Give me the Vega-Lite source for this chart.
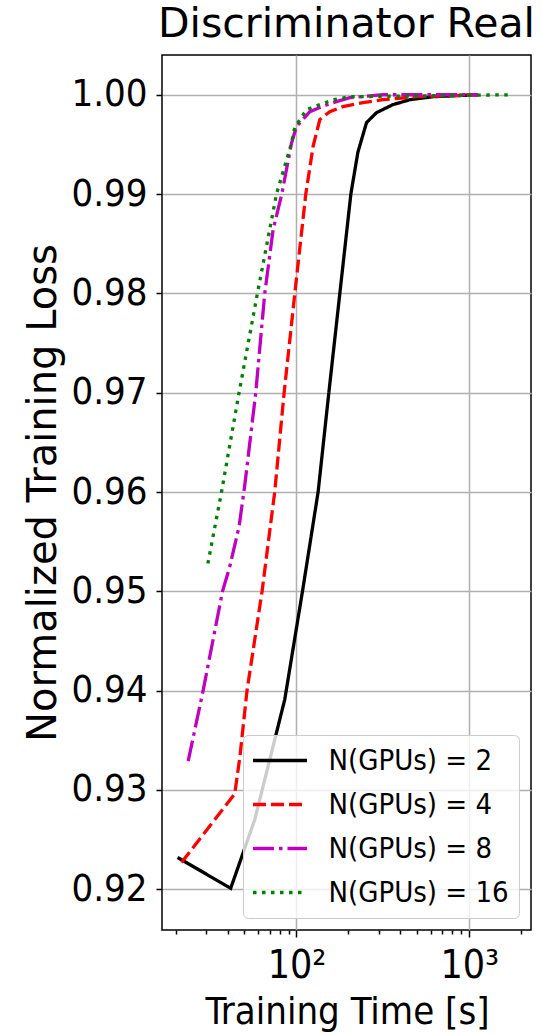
{
  "$schema": "https://vega.github.io/schema/vega-lite/v6.json",
  "width": 369,
  "height": 875,
  "autosize": {"type": "none"},
  "padding": {"left": 162, "top": 55, "right": 11, "bottom": 104},
  "background": "white",
  "title": {
    "text": "Discriminator Real",
    "font": "DejaVu Sans",
    "fontSize": 41,
    "fontWeight": "normal",
    "color": "black",
    "anchor": "middle",
    "frame": "group",
    "offset": 9
  },
  "config": {
    "view": {"stroke": "black", "strokeWidth": 1.5},
    "legend": {
      "orient": "none",
      "legendX": 81,
      "legendY": 680,
      "title": null,
      "symbolType": "M-2,0H2",
      "symbolSize": 729,
      "symbolStrokeWidth": 3.3,
      "symbolOffset": 11.5,
      "labelFont": "DejaVu Sans Condensed",
      "labelFontSize": 29,
      "labelColor": "black",
      "labelOffset": 33,
      "labelLimit": 400,
      "rowPadding": 13,
      "padding": 10,
      "strokeColor": "#cccccc",
      "fillColor": "rgba(255,255,255,0.8)",
      "cornerRadius": 5
    }
  },
  "data": {
    "values": [
      {"gpus": 2, "t": 20.5, "loss": 0.9232},
      {"gpus": 2, "t": 41.6, "loss": 0.9201},
      {"gpus": 2, "t": 57.3, "loss": 0.9270},
      {"gpus": 2, "t": 85.5, "loss": 0.9391},
      {"gpus": 2, "t": 108.3, "loss": 0.9500},
      {"gpus": 2, "t": 133.4, "loss": 0.9600},
      {"gpus": 2, "t": 153.9, "loss": 0.9700},
      {"gpus": 2, "t": 178.2, "loss": 0.9800},
      {"gpus": 2, "t": 206.4, "loss": 0.9900},
      {"gpus": 2, "t": 226.6, "loss": 0.9942},
      {"gpus": 2, "t": 254.4, "loss": 0.9972},
      {"gpus": 2, "t": 290.8, "loss": 0.9982},
      {"gpus": 2, "t": 361.4, "loss": 0.9990},
      {"gpus": 2, "t": 453.4, "loss": 0.9995},
      {"gpus": 2, "t": 616.3, "loss": 0.9998},
      {"gpus": 2, "t": 1123, "loss": 1.0000},
      {"gpus": 4, "t": 21.6, "loss": 0.9227},
      {"gpus": 4, "t": 43.9, "loss": 0.9296},
      {"gpus": 4, "t": 47.0, "loss": 0.9333},
      {"gpus": 4, "t": 51.7, "loss": 0.9400},
      {"gpus": 4, "t": 63.2, "loss": 0.9500},
      {"gpus": 4, "t": 74.8, "loss": 0.9600},
      {"gpus": 4, "t": 84.8, "loss": 0.9700},
      {"gpus": 4, "t": 97.8, "loss": 0.9800},
      {"gpus": 4, "t": 113.2, "loss": 0.9900},
      {"gpus": 4, "t": 124.8, "loss": 0.9948},
      {"gpus": 4, "t": 136.5, "loss": 0.9975},
      {"gpus": 4, "t": 155.9, "loss": 0.9983},
      {"gpus": 4, "t": 185.5, "loss": 0.9988},
      {"gpus": 4, "t": 242.2, "loss": 0.9992},
      {"gpus": 4, "t": 316.2, "loss": 0.9995},
      {"gpus": 4, "t": 495.8, "loss": 0.9998},
      {"gpus": 4, "t": 1123, "loss": 1.0000},
      {"gpus": 8, "t": 23.6, "loss": 0.9329},
      {"gpus": 8, "t": 28.8, "loss": 0.9400},
      {"gpus": 8, "t": 37.3, "loss": 0.9500},
      {"gpus": 8, "t": 41.1, "loss": 0.9525},
      {"gpus": 8, "t": 46.5, "loss": 0.9565},
      {"gpus": 8, "t": 50.2, "loss": 0.9607},
      {"gpus": 8, "t": 58.1, "loss": 0.9700},
      {"gpus": 8, "t": 65.5, "loss": 0.9800},
      {"gpus": 8, "t": 73.2, "loss": 0.9864},
      {"gpus": 8, "t": 82.2, "loss": 0.9900},
      {"gpus": 8, "t": 93.5, "loss": 0.9951},
      {"gpus": 8, "t": 100, "loss": 0.9968},
      {"gpus": 8, "t": 119.4, "loss": 0.9983},
      {"gpus": 8, "t": 155.9, "loss": 0.9991},
      {"gpus": 8, "t": 203.6, "loss": 0.9997},
      {"gpus": 8, "t": 317.5, "loss": 1.0000},
      {"gpus": 8, "t": 1123, "loss": 1.0000},
      {"gpus": 16, "t": 30.7, "loss": 0.9528},
      {"gpus": 16, "t": 36.8, "loss": 0.9600},
      {"gpus": 16, "t": 46.5, "loss": 0.9700},
      {"gpus": 16, "t": 59.4, "loss": 0.9800},
      {"gpus": 16, "t": 76.6, "loss": 0.9900},
      {"gpus": 16, "t": 93.5, "loss": 0.9951},
      {"gpus": 16, "t": 97.8, "loss": 0.9967},
      {"gpus": 16, "t": 114.3, "loss": 0.9985},
      {"gpus": 16, "t": 163, "loss": 0.9995},
      {"gpus": 16, "t": 203.6, "loss": 0.9998},
      {"gpus": 16, "t": 1791, "loss": 1.0000}
    ]
  },
  "mark": {"type": "line", "strokeWidth": 3.3, "clip": true},
  "encoding": {
    "x": {
      "field": "t",
      "type": "quantitative",
      "scale": {"type": "log", "domain": [16.65, 2278], "nice": false},
      "axis": {
        "values": [20, 30, 40, 50, 60, 70, 80, 90, 100, 200, 300, 400, 500, 600, 700, 800, 900, 1000, 2000],
        "labelExpr": "datum.value == 100 ? '10²' : datum.value == 1000 ? '10³' : ''",
        "labelOverlap": false,
        "labelFlush": false,
        "labelFont": "DejaVu Sans Condensed",
        "labelFontSize": 39,
        "labelColor": "black",
        "labelBaseline": "alphabetic",
        "labelPadding": 40,
        "domain": false,
        "tickColor": "black",
        "tickWidth": 1.5,
        "tickSize": {"condition": {"test": "datum.value == 100 || datum.value == 1000", "value": 7}, "value": 4},
        "grid": true,
        "gridColor": "#b0b0b0",
        "gridWidth": 1.5,
        "gridOpacity": {"condition": {"test": "datum.value == 100 || datum.value == 1000", "value": 1}, "value": 0},
        "title": "Training Time [s]",
        "titleFont": "DejaVu Sans Condensed",
        "titleFontSize": 38,
        "titleFontWeight": "normal",
        "titleColor": "black",
        "titleBaseline": "alphabetic",
        "titleX": 185,
        "titleY": 93,
        "titleAnchor": "middle"
      }
    },
    "y": {
      "field": "loss",
      "type": "quantitative",
      "scale": {"domain": [0.9159, 1.004], "nice": false, "zero": false},
      "axis": {
        "values": [0.92, 0.93, 0.94, 0.95, 0.96, 0.97, 0.98, 0.99, 1.0],
        "format": ".2f",
        "labelFont": "DejaVu Sans Condensed",
        "labelFontSize": 38,
        "labelColor": "black",
        "labelPadding": 9,
        "domain": false,
        "tickColor": "black",
        "tickWidth": 1.5,
        "tickSize": 6,
        "grid": true,
        "gridColor": "#b0b0b0",
        "gridWidth": 1.5,
        "title": "Normalized Training Loss",
        "titleFont": "DejaVu Sans",
        "titleFontSize": 40,
        "titleFontWeight": "normal",
        "titleColor": "black",
        "titleAngle": -90,
        "titleAlign": "center",
        "titleBaseline": "alphabetic",
        "titleX": -107,
        "titleY": 437.5
      }
    },
    "color": {
      "field": "gpus",
      "type": "nominal",
      "scale": {"domain": [2, 4, 8, 16], "range": ["#000000", "#ff0000", "#bf00bf", "#008000"]},
      "legend": {"labelExpr": "'N(GPUs) = ' + datum.label"}
    },
    "strokeDash": {
      "field": "gpus",
      "type": "nominal",
      "scale": {"domain": [2, 4, 8, 16], "range": [[1, 0], [13, 5], [21, 5, 3.5, 5], [3.5, 5.5]]},
      "legend": {"labelExpr": "'N(GPUs) = ' + datum.label"}
    }
  }
}
